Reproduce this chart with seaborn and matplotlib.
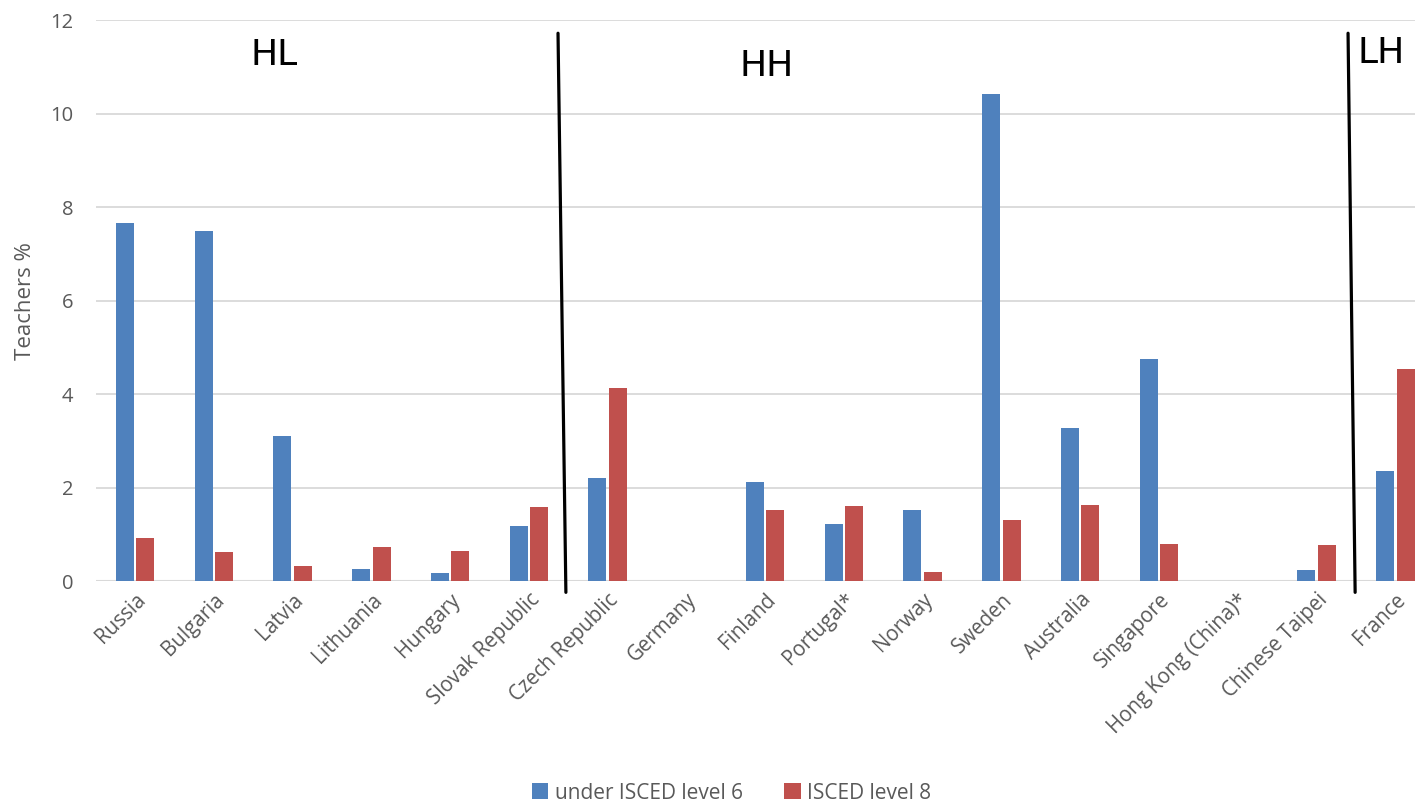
import pandas as pd
import seaborn as sns
import matplotlib.pyplot as plt

countries = ['Russia', 'Bulgaria', 'Latvia', 'Lithuania', 'Hungary', 'Slovak Republic',
             'Czech Republic', 'Germany', 'Finland', 'Portugal*', 'Norway', 'Sweden',
             'Australia', 'Singapore', 'Hong Kong (China)*', 'Chinese Taipei', 'France']
under_level6 = [7.66, 7.49, 3.10, 0.25, 0.18, 1.17, 2.20, 0.0, 2.13, 1.23, 1.52, 10.42,
                3.28, 4.76, 0.0, 0.24, 2.36]
level8 = [0.93, 0.63, 0.32, 0.74, 0.65, 1.58, 4.13, 0.0, 1.53, 1.60, 0.20, 1.30,
          1.62, 0.79, 0.0, 0.78, 4.53]
series = ['under ISCED level 6', 'ISCED level 8']
groups = ['HL', 'HH', 'LH']

df = pd.DataFrame({
    'Country': countries * 2,
    'Teachers': under_level6 + level8,
    'Series': [series[0]] * len(countries) + [series[1]] * len(countries),
})

sns.set_style('white')
plt.rcParams['font.family'] = ['Open Sans', 'DejaVu Sans']

fig = plt.figure(figsize=(14.15, 8.06), dpi=100)
ax = fig.add_axes([0.0676, 0.279, 0.9324, 0.696])

sns.barplot(data=df, x='Country', y='Teachers', hue='Series', order=countries,
            hue_order=series, palette=['#4F81BD', '#C0504D'], saturation=1,
            width=0.52, gap=0.12, linewidth=0, ax=ax)

ax.set_ylim(0, 12)
ax.set_xlim(-0.5, 16.25)
ax.set_yticks(range(0, 13, 2))
ax.yaxis.grid(True, color='#D9D9D9', linewidth=1.3)
ax.set_axisbelow(True)
for s in ax.spines.values():
    s.set_visible(False)
ax.axhline(0, color='#D9D9D9', linewidth=1.5, zorder=0.5)

ax.tick_params(axis='both', length=0, colors='#595959')
ax.tick_params(axis='x', labelsize=14.8, pad=6)
ax.tick_params(axis='y', labelsize=14.5, pad=16)
plt.setp(ax.get_xticklabels(), rotation=45, ha='right', rotation_mode='anchor')
ax.set_xlabel('')
ax.set_ylabel('Teachers %', fontsize=16, color='#595959', labelpad=10)

# group separators and labels
ax.plot([5.37, 5.47], [11.72, -0.24], color='black', linewidth=2.3, clip_on=False)
ax.plot([15.40, 15.49], [11.72, -0.24], color='black', linewidth=2.3, clip_on=False)
ax.text(1.76, 11.25, groups[0], fontsize=26, ha='center', va='center',
        color='black', family='DejaVu Sans')
ax.text(8.02, 11.02, groups[1], fontsize=26, ha='center', va='center',
        color='black', family='DejaVu Sans')
ax.text(15.52, 11.3, groups[2], fontsize=26, ha='left', va='center',
        color='black', family='DejaVu Sans')

handles, labels = ax.get_legend_handles_labels()
ax.legend_.remove()
fig.legend(handles, labels, loc='center', bbox_to_anchor=(0.517, 0.016), ncol=2,
           frameon=False, handlelength=0.8, handleheight=0.8, handletextpad=0.3,
           columnspacing=2.0, fontsize=15, labelcolor='#595959')

fig.savefig('out.png', dpi=100)
